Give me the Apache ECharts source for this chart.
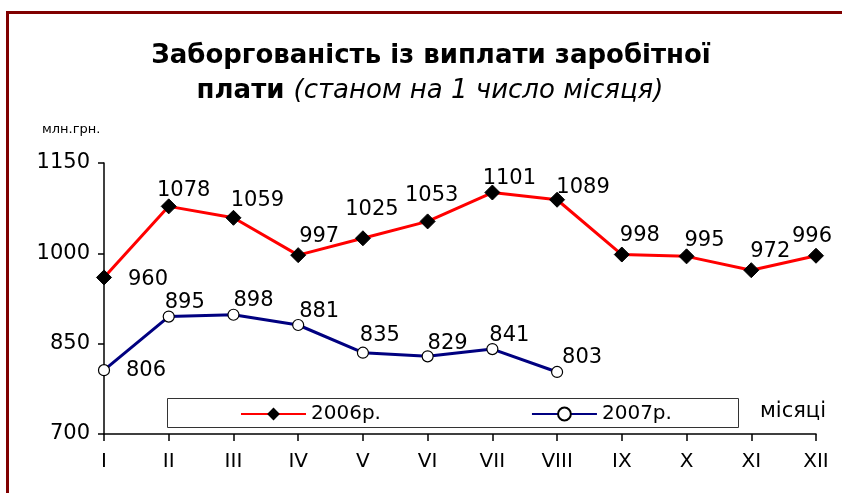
<!DOCTYPE html>
<html>
<head>
<meta charset="utf-8">
<script src="https://cdn.jsdelivr.net/npm/echarts@6/dist/echarts.min.js"></script>
<style>
  html, body { margin: 0; padding: 0; background: #fff; }
  #chart { width: 842px; height: 493px; }
</style>
</head>
<body>
<div id="chart"></div>
<script>
  // місяці
  var months = ['I', 'II', 'III', 'IV', 'V', 'VI', 'VII', 'VIII', 'IX', 'X', 'XI', 'XII'];
  // заборгованість, млн.грн.
  var debt2006 = [960, 1078, 1059, 997, 1025, 1053, 1101, 1089, 998, 995, 972, 996];
  var debt2007 = [806, 895, 898, 881, 835, 829, 841, 803];
  var yTicks = [700, 850, 1000, 1150];

  // зміщення підписів від точки (як у вихідному малюнку)
  var offsets2006 = [[44, 2], [15, -16], [24, -17], [21, -19], [9, -29], [4, -26],
                     [17, -14], [26, -12], [18, -19], [18, -16], [19, -19], [-4, -19]];
  var offsets2007 = [[42, 0], [16, -14], [20, -14], [21, -13], [17, -17], [20, -13],
                     [17, -14], [25, -14]];

  var fontMain = 'DejaVu Sans';

  function withLabels(values, offsets) {
    return values.map(function (v, i) {
      return { value: v, label: { offset: offsets[i] } };
    });
  }

  var chart = echarts.init(document.getElementById('chart'));
  chart.setOption({
    animation: false,
    backgroundColor: '#fff',
    grid: { left: 104, right: 26, top: 163, bottom: 59, containLabel: false },
    legend: {
      data: ['2006р.', '2007р.'],
      left: 240,
      top: 404,
      padding: 0,
      itemWidth: 65,
      itemHeight: 16,
      itemGap: 150,
      textStyle: { fontFamily: fontMain, fontSize: 20, color: '#000' }
    },
    xAxis: {
      type: 'category',
      data: months,
      boundaryGap: false,
      axisLine: { lineStyle: { color: '#000', width: 1.5 } },
      axisTick: { show: true, length: 7, lineStyle: { color: '#000', width: 1.5 } },
      axisLabel: { color: '#000', fontFamily: fontMain, fontSize: 20, margin: 18 },
      splitLine: { show: false }
    },
    yAxis: {
      type: 'value',
      min: 700,
      max: 1150,
      axisLine: { show: true, lineStyle: { color: '#000', width: 1.5 } },
      axisTick: { show: true, length: 6, customValues: yTicks, lineStyle: { color: '#000', width: 1.5 } },
      axisLabel: {
        color: '#000', fontFamily: fontMain, fontSize: 21, margin: 14, customValues: yTicks,
        formatter: function (v) { return String(v); }
      },
      splitLine: { show: false }
    },
    series: [
      {
        name: '2006р.',
        type: 'line',
        data: withLabels(debt2006, offsets2006),
        symbol: 'diamond',
        symbolSize: 15,
        lineStyle: { color: '#ff0000', width: 3 },
        itemStyle: { color: '#000', borderColor: '#000' },
        label: {
          show: true, position: 'inside', align: 'center', verticalAlign: 'middle',
          color: '#000', fontFamily: fontMain, fontSize: 21
        },
        z: 3
      },
      {
        name: '2007р.',
        type: 'line',
        data: withLabels(debt2007, offsets2007),
        symbol: 'circle',
        symbolSize: 11,
        showAllSymbol: true,
        lineStyle: { color: '#000080', width: 3 },
        itemStyle: { color: '#fff', borderColor: '#000', borderWidth: 1.2 },
        label: {
          show: true, position: 'inside', align: 'center', verticalAlign: 'middle',
          color: '#000', fontFamily: fontMain, fontSize: 21
        },
        z: 3
      }
    ],
    graphic: [
      {
        type: 'polyline',
        shape: { points: [[7.5, 493], [7.5, 12.5], [842, 12.5]] },
        style: { stroke: '#800000', lineWidth: 3, fill: null },
        z: 10
      },
      {
        type: 'text',
        x: 431, y: 56,
        style: {
          text: 'Заборгованість із виплати заробітної',
          font: 'bold 26px "DejaVu Sans"',
          fill: '#000', align: 'center', verticalAlign: 'middle'
        }
      },
      {
        type: 'text',
        x: 430, y: 91,
        style: {
          text: '{b|плати }{i|(станом на 1 число місяця)}',
          align: 'center', verticalAlign: 'middle',
          rich: {
            b: { fontFamily: fontMain, fontWeight: 'bold', fontSize: 26, fill: '#000' },
            i: { fontFamily: fontMain, fontStyle: 'italic', fontSize: 26, fill: '#000' }
          }
        }
      },
      {
        type: 'text',
        x: 42, y: 130,
        style: {
          text: 'млн.грн.', font: '13px "DejaVu Sans"', fill: '#000',
          align: 'left', verticalAlign: 'middle'
        }
      },
      {
        type: 'rect',
        shape: { x: 167.5, y: 398.5, width: 571, height: 29 },
        style: { fill: '#fff', stroke: '#333', lineWidth: 1 },
        z: 3
      },
      {
        type: 'text',
        x: 760, y: 412,
        style: {
          text: 'місяці', font: '21px "DejaVu Sans"', fill: '#000',
          align: 'left', verticalAlign: 'middle'
        }
      }
    ]
  });
</script>
</body>
</html>
